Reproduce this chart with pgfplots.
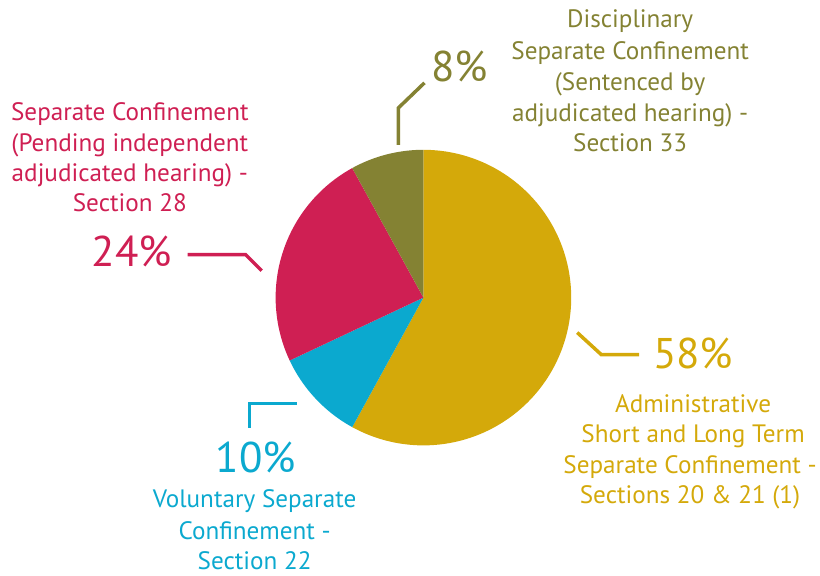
\documentclass[border=0pt]{standalone}
\usepackage{pgfplots}
\pgfplotsset{compat=1.18}
\usepackage{pgfplotstable}
\usepackage{fontspec}
\setmainfont{PT Sans}
\definecolor{cgold}{HTML}{D4A90A}
\definecolor{colive}{HTML}{848233}
\definecolor{cred}{HTML}{CF1F53}
\definecolor{cblue}{HTML}{0BA9CF}
\pgfplotstableread{
value
58
10
24
8
}\piedata
\newcommand{\lbl}{\fontsize{25.2}{31}\selectfont}
\newcommand{\pct}{\fontsize{43}{50}\selectfont}
\begin{document}
\begin{tikzpicture}
\pgfplotstablegetelem{0}{value}\of\piedata \let\vA\pgfplotsretval
\pgfplotstablegetelem{1}{value}\of\piedata \let\vB\pgfplotsretval
\pgfplotstablegetelem{2}{value}\of\piedata \let\vC\pgfplotsretval
\pgfplotstablegetelem{3}{value}\of\piedata \let\vD\pgfplotsretval
\pgfmathsetmacro\aA{90}
\pgfmathsetmacro\aB{\aA-3.6*\vA}
\pgfmathsetmacro\aC{\aB-3.6*\vB}
\pgfmathsetmacro\aD{\aC-3.6*\vC}
\pgfmathsetmacro\aE{\aD-3.6*\vD}
\begin{axis}[
  scale only axis, width=820pt, height=576pt,
  xmin=0, xmax=820, ymin=0, ymax=576,
  hide axis, clip=false,
]
\path (axis cs:0,0) (axis cs:820,576);
% slices
\addplot[draw=none, fill=cgold, domain=\aB:\aA, samples=120] ({424+148*cos(x)},{278+148*sin(x)}) -- (axis cs:424,278) -- cycle;
\addplot[draw=none, fill=cblue, domain=\aC:\aB, samples=40] ({424+148*cos(x)},{278+148*sin(x)}) -- (axis cs:424,278) -- cycle;
\addplot[draw=none, fill=cred, domain=\aD:\aC, samples=80] ({424+148*cos(x)},{278+148*sin(x)}) -- (axis cs:424,278) -- cycle;
\addplot[draw=none, fill=colive, domain=\aE:\aD, samples=40] ({424+148*cos(x)},{278+148*sin(x)}) -- (axis cs:424,278) -- cycle;
% leader lines
\draw[cred, line width=3.5pt] (axis cs:188,321) -- (axis cs:246,321) -- (axis cs:262,305);
\draw[colive, line width=3.5pt] (axis cs:399,431) -- (axis cs:399,468) -- (axis cs:425,493);
\draw[cgold, line width=3.5pt] (axis cs:578,243) -- (axis cs:602,221) -- (axis cs:640,221);
\draw[cblue, line width=3.5pt] (axis cs:297,172) -- (axis cs:250,172) -- (axis cs:250,147);
% percentages
\node[anchor=base, text=cred, font=\pct] at (axis cs:132,309) {24\%};
\node[anchor=base, text=colive, font=\pct] at (axis cs:460,494) {8\%};
\node[anchor=base, text=cgold, font=\pct] at (axis cs:694,207) {58\%};
\node[anchor=base, text=cblue, font=\pct] at (axis cs:256,103) {10\%};
% red label
\node[anchor=base, text=cred, font=\lbl] at (axis cs:130,455) {Separate Confinement};
\node[anchor=base, text=cred, font=\lbl] at (axis cs:130,424) {(Pending independent};
\node[anchor=base, text=cred, font=\lbl] at (axis cs:130,394) {adjudicated hearing) -};
\node[anchor=base, text=cred, font=\lbl] at (axis cs:130,364) {Section 28};
% olive label
\node[anchor=base, text=colive, font=\lbl] at (axis cs:631,548) {Disciplinary};
\node[anchor=base, text=colive, font=\lbl] at (axis cs:631,516) {Separate Confinement};
\node[anchor=base, text=colive, font=\lbl] at (axis cs:631,485) {(Sentenced by};
\node[anchor=base, text=colive, font=\lbl] at (axis cs:631,454) {adjudicated hearing) -};
\node[anchor=base, text=colive, font=\lbl] at (axis cs:631,424) {Section 33};
% gold label
\node[anchor=base, text=cgold, font=\lbl] at (axis cs:694,163) {Administrative};
\node[anchor=base, text=cgold, font=\lbl] at (axis cs:694,133) {Short and Long Term};
\node[anchor=base, text=cgold, font=\lbl] at (axis cs:691,102) {Separate Confinement -};
\node[anchor=base, text=cgold, font=\lbl] at (axis cs:691,72) {Sections 20 \& 21 (1)};
% blue label
\node[anchor=base, text=cblue, font=\lbl] at (axis cs:255,68) {Voluntary Separate};
\node[anchor=base, text=cblue, font=\lbl] at (axis cs:255,36) {Confinement -};
\node[anchor=base, text=cblue, font=\lbl] at (axis cs:255,6) {Section 22};
\end{axis}
\end{tikzpicture}
\end{document}
